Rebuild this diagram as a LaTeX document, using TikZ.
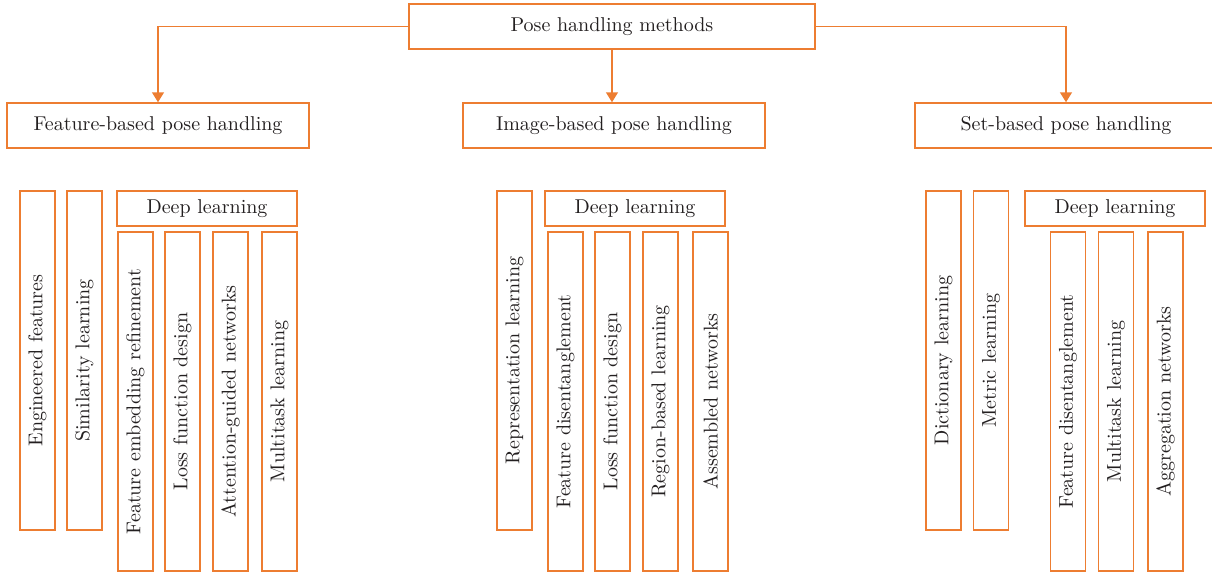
\documentclass[tikz,border=0pt]{standalone}
\usepackage{xcolor}
\definecolor{boxorange}{RGB}{237,125,49}
\definecolor{textgrey}{RGB}{35,31,32}
\usepackage{tikz}
\usetikzlibrary{arrows.meta}
\newcommand{\lengthcolumn}{169.5pt}
\newcommand{\widthcolumn}{17.5pt}
\tikzset{
    common/.style={draw=boxorange, line width=0.75pt, rectangle, text=textgrey, inner sep=0pt},
    root/.style={common, minimum width=203pt, minimum height=22.5pt},
    branch/.style={common, minimum width=151pt, minimum height=22.5pt},
    group/.style={common, minimum width=90pt, minimum height=17.5pt},
    column/.style={common, rotate=90, minimum width=\lengthcolumn, minimum height=\widthcolumn},
    link/.style={boxorange, line width=0.75pt, -{Triangle[length=5pt, width=6pt]}}
}

\begin{document}
\begin{tikzpicture}[x=0.5pt, y=-0.5pt]
            \useasboundingbox (0,0) rectangle (1212,573);

            \node[root] (root) at (612,26.5) {Pose handling methods};
            \node[branch] (feat) at (158,125.5) {Feature-based pose handling};
            \node[branch] (img) at (614,125.5) {Image-based pose handling};
            \node[branch] (set) at (1066,125.5) {Set-based pose handling};

            \draw[link] (root.west) -| (feat.north);
            \draw[link] (root.south) -- (root.south |- img.north);
            \draw[link] (root.east) -| (set.north);

            % feature-based
            \path
                (37.5,360.5) node[column] (feat-eng) {Engineered features}
                ++(47,0) node[column] (feat-sim) {Similarity learning}
                (207,208.5) node[group] (feat-deep) {Deep learning}
                (135.5,401.5) node[column] (feat-emb) {Feature embedding refinement}
                ++(47,0) node[column] (feat-loss) {Loss function design}
                ++(48,0) node[column] (feat-att) {Attention-guided networks}
                ++(49,0) node[column] (feat-multi) {Multitask learning};

            % image-based
            \path
                (514.5,360.5) node[column] (img-rep) {Representation learning}
                (635,208.5) node[group] (img-deep) {Deep learning}
                (565.5,401.5) node[column] (img-dis) {Feature disentanglement}
                ++(47,0) node[column] (img-loss) {Loss function design}
                ++(48,0) node[column] (img-reg) {Region-based learning}
                ++(50,0) node[column] (img-asm) {Assembled networks};

            % set-based
            \path
                (943.5,360.5) node[column] (set-dict) {Dictionary learning}
                ++(47.5,0) node[column] (set-metric) {Metric learning}
                (1115,208.5) node[group] (set-deep) {Deep learning}
                (1068,401.5) node[column] (set-dis) {Feature disentanglement}
                ++(48,0) node[column] (set-multi) {Multitask learning}
                ++(49.5,0) node[column] (set-agg) {Aggregation networks};
\end{tikzpicture}
\end{document}
